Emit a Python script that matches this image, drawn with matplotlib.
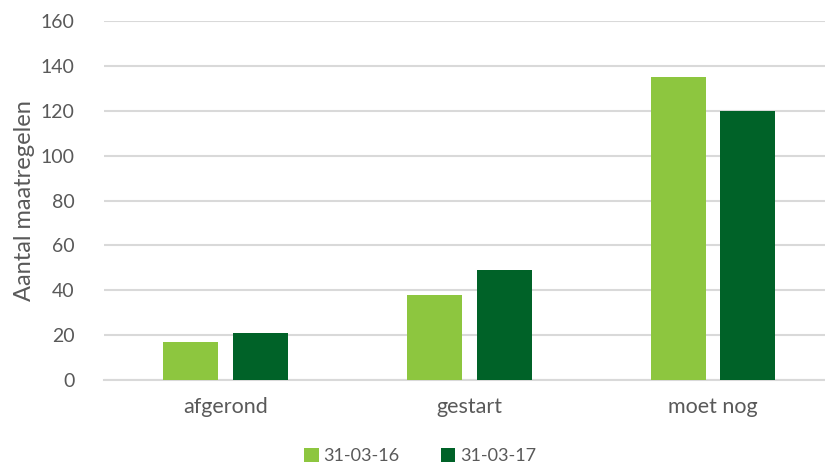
"""Grouped bar chart: aantal maatregelen per status."""

import matplotlib
matplotlib.use("Agg")
import matplotlib.pyplot as plt
import numpy as np

categories = ["afgerond", "gestart", "moet nog"]
series_names = ["31-03-16", "31-03-17"]
values_2016 = [17, 38, 135]
values_2017 = [21, 49, 120]

LIGHT = "#8DC63F"
DARK = "#006228"
TEXT = "#595959"
GRID = "#D9D9D9"

plt.rcParams["font.family"] = ["Lato", "DejaVu Sans"]

fig = plt.figure(figsize=(8.25, 4.67), dpi=100)
ax = fig.add_axes([104 / 825, 1 - 380 / 467, 1 - 104 / 825, 359 / 467])

x = np.arange(len(categories))
width = 0.226
offset = 0.143
ax.bar(x - offset, values_2016, width, color=LIGHT, label=series_names[0], zorder=3)
ax.bar(x + offset, values_2017, width, color=DARK, label=series_names[1], zorder=3)

ax.set_xlim(-0.5, 2.46)
ax.set_ylim(0, 160)
ax.set_yticks(range(0, 161, 20))
ax.set_xticks(x)
ax.set_xticklabels(categories)
ax.yaxis.grid(True, color=GRID, linewidth=1.5, zorder=0)
ax.tick_params(axis="both", length=0, colors=TEXT)
ax.tick_params(axis="x", pad=12, labelsize=15.5)
ax.tick_params(axis="y", pad=21, labelsize=14)
for side in ["top", "right", "left"]:
    ax.spines[side].set_visible(False)
ax.spines["bottom"].set_color(GRID)
ax.spines["bottom"].set_linewidth(1.5)

ax.set_ylabel("Aantal maatregelen", color=TEXT, fontsize=17, labelpad=4)

fig.legend(loc="center", bbox_to_anchor=(420 / 825, 1 - 456 / 467), ncol=2,
           frameon=False, fontsize=13, labelcolor=TEXT, handlelength=0.8,
           handleheight=0.8, handletextpad=0.25, columnspacing=2.3)

fig.savefig("out.png", dpi=100)
